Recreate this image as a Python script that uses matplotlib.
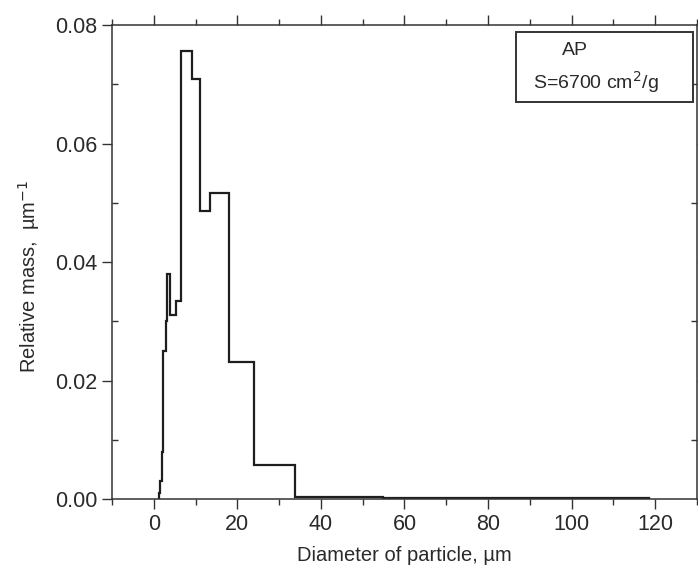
import matplotlib
matplotlib.use('Agg')
import matplotlib.pyplot as plt
from matplotlib.ticker import MultipleLocator
from matplotlib.patches import Rectangle

plt.rcParams['font.family'] = ['Liberation Sans', 'DejaVu Sans']

# bin edges (um) and relative mass (1/um)
edges = [1.2, 1.5, 1.9, 2.1, 2.9, 3.2, 3.9, 5.2, 6.6, 9.2, 11.0,
         13.5, 17.9, 23.9, 33.8, 54.9, 118.5]
mass = [0.001, 0.003, 0.008, 0.025, 0.030, 0.038, 0.031, 0.0335,
        0.0757, 0.0709, 0.0487, 0.0517, 0.0232, 0.0057, 0.0004, 0.0001]

xticks = [0, 20, 40, 60, 80, 100, 120]
yticks = [0.00, 0.02, 0.04, 0.06, 0.08]

fig = plt.figure(figsize=(6.98, 5.71), dpi=100)
ax = fig.add_axes([0.1605, 0.126, 0.838, 0.830])

ax.stairs(mass, edges, color='#1e1e1e', linewidth=1.6, baseline=0)

ax.set_xlim(-10, 130)
ax.set_ylim(0, 0.08)
ax.set_xticks(xticks)
ax.set_yticks(yticks)
ax.set_yticklabels([f'{v:.2f}' for v in yticks])
ax.xaxis.set_minor_locator(MultipleLocator(10))
ax.yaxis.set_minor_locator(MultipleLocator(0.01))

ax.tick_params(axis='both', which='major', direction='out', length=7,
               width=1, color='#333333', labelsize=15.5, labelcolor='#2a2a2a',
               top=True, right=True)
ax.tick_params(axis='x', which='minor', direction='out', length=4,
               width=1, color='#333333', top=True)
ax.tick_params(axis='y', which='minor', direction='in', length=4,
               width=1, color='#333333', right=True)
for s in ax.spines.values():
    s.set_color('#333333')
    s.set_linewidth(1.1)

ax.set_xlabel('Diameter of particle, \u00b5m', fontsize=14.5, color='#2a2a2a',
              labelpad=8)
ax.set_ylabel('Relative mass,  \u00b5m$^{-1}$', fontsize=14.5, color='#2a2a2a')
ax.yaxis.set_label_coords(-0.12, 0.47)

# label box in the top right corner
ax.add_patch(Rectangle((0.690, 0.838), 0.303, 0.147, transform=ax.transAxes,
                       facecolor='white', edgecolor='#333333', linewidth=1.4,
                       zorder=3))
ax.text(0.769, 0.947, 'AP', transform=ax.transAxes, fontsize=14,
        color='#2a2a2a', va='center', ha='left', zorder=4)
ax.text(0.720, 0.880, 'S=6700 cm$^2$/g', transform=ax.transAxes, fontsize=14,
        color='#2a2a2a', va='center', ha='left', zorder=4)

fig.savefig('out.png', dpi=100)
